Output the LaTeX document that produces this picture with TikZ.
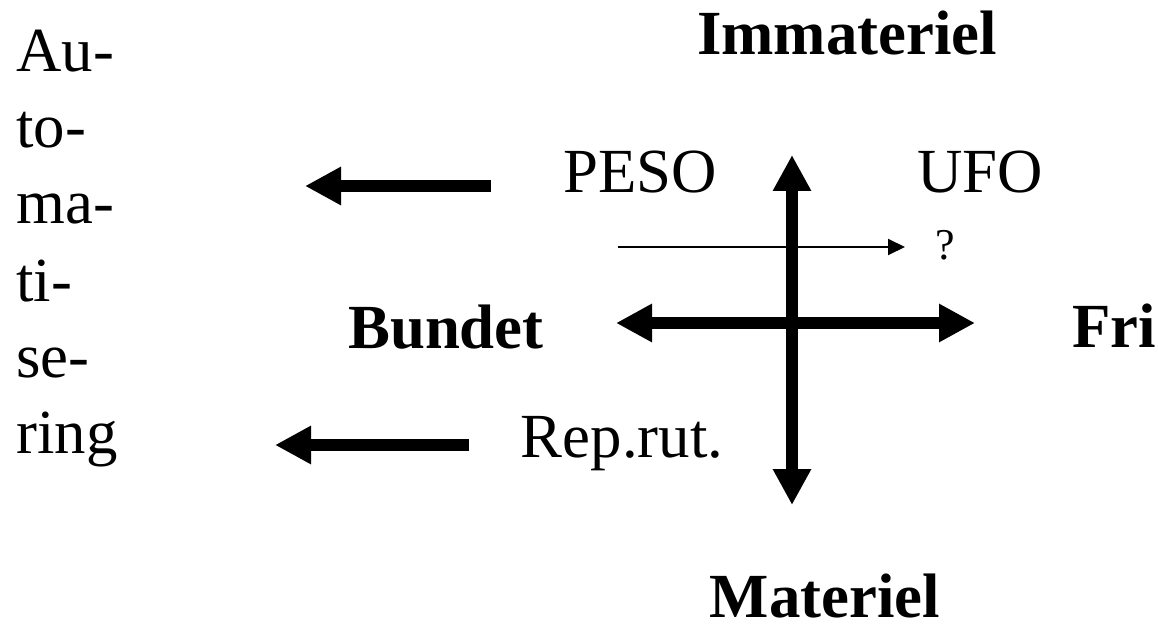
\documentclass[tikz,border=0pt]{standalone}
\usepackage{fontspec}
\setmainfont{Liberation Serif}
\usetikzlibrary{arrows.meta}
\begin{document}
\begin{tikzpicture}[x=0.5pt,y=-0.5pt,
  lbl/.style={inner sep=0pt, anchor=base, font=\fontsize{31.4}{38}\selectfont},
  blbl/.style={lbl, font=\fontsize{31.4}{38}\selectfont\bfseries},
  col/.style={lbl, anchor=base west},
  bigarrow/.style={line width=6pt, -{Triangle[length=18pt,width=18pt]}},
  bigdouble/.style={line width=6pt, {Triangle[length=18pt,width=18pt]}-{Triangle[length=18pt,width=18pt]}},
  thinarrow/.style={line width=1pt, -{Triangle[length=8.5pt,width=8pt]}}]
\useasboundingbox (0,0) rectangle (1158,626);
% left column
\node[col] (au) at (16,72) {Au-};
\node[col] (to) at (16,148) {to-};
\node[col] (ma) at (16,224) {ma-};
\node[col] (ti) at (16,301) {ti-};
\node[col] (se) at (16,377) {se-};
\node[col] (ring) at (16,453) {ring};
% labels
\node[blbl] (imm) at (847,55) {Immateriel};
\node[lbl] (peso) at (640,193) {PESO};
\node[lbl] (ufo) at (980,193) {UFO};
\node[lbl, font=\fontsize{22}{26}\selectfont] (q) at (945,259) {?};
\node[blbl] (bundet) at (446,348) {Bundet};
\node[blbl] (fri) at (1114,347) {Fri};
\node[lbl] (rep) at (622,457) {Rep.rut.};
\node[blbl] (mat) at (825,617) {Materiel};
% arrow end points
\coordinate (vtop) at (792,155);
\coordinate (vbot) at (792,505);
\coordinate (hleft) at (616,323);
\coordinate (hright) at (975,323);
\coordinate (tstart) at (618,247);
\coordinate (tend) at (905,247);
\coordinate (a1s) at (491,186);
\coordinate (a1e) at (305,186);
\coordinate (a2s) at (469,445);
\coordinate (a2e) at (275,445);
% arrows
\draw[bigdouble] (vbot) -- (vtop);
\draw[bigdouble] (hleft) -- (hright);
\draw[thinarrow] (tstart) -- (tend);
\draw[bigarrow] (a1s) -- (a1e);
\draw[bigarrow] (a2s) -- (a2e);
\end{tikzpicture}
\end{document}
